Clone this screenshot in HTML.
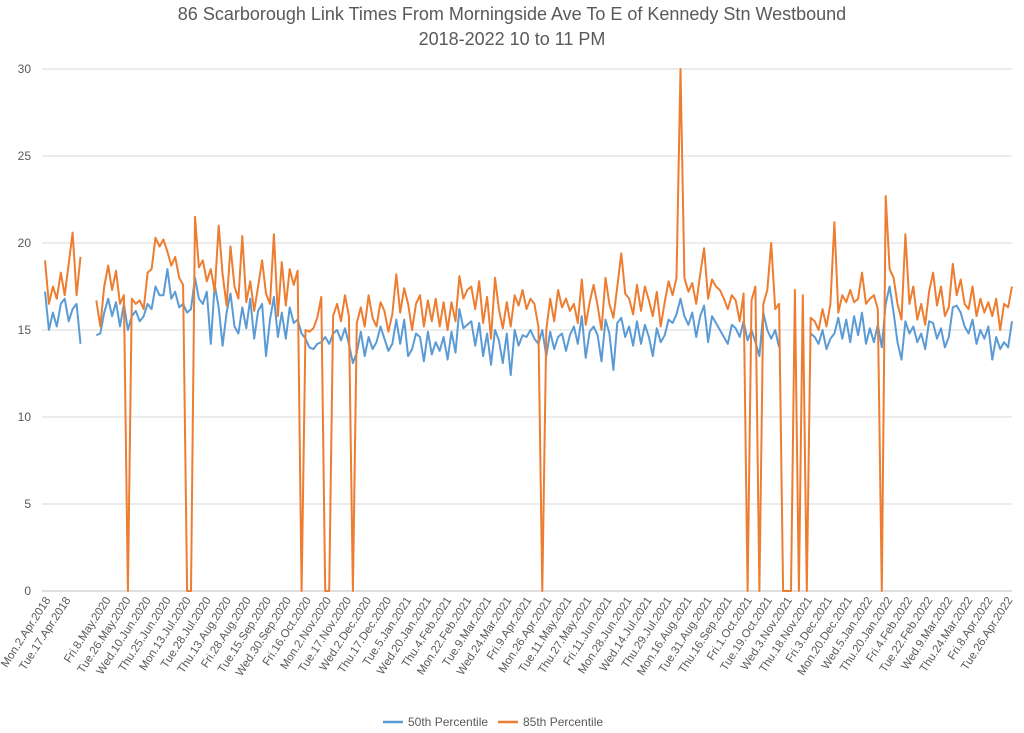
<!DOCTYPE html>
<html><head><meta charset="utf-8"><style>
html,body{margin:0;padding:0;background:#fff;}
svg{display:block;font-family:"Liberation Sans",Arial,sans-serif;}
</style></head><body>
<svg id="chart" width="1024" height="733" viewBox="0 0 1024 733">
<text x="512" y="20" text-anchor="middle" font-size="18" fill="#595959">86 Scarborough Link Times From Morningside Ave To E of Kennedy Stn Westbound</text>
<text x="512" y="45" text-anchor="middle" font-size="18" fill="#595959">2018-2022 10 to 11 PM</text>
<g id="grid"></g><g id="series"></g><g id="xlabels"></g>
<g>
<line x1="383" y1="722" x2="403" y2="722" stroke="#5b9bd5" stroke-width="2.5"/>
<text x="408" y="726" font-size="12" fill="#595959">50th Percentile</text>
<line x1="498" y1="722" x2="518" y2="722" stroke="#ed7d31" stroke-width="2.5"/>
<text x="523" y="726" font-size="12" fill="#595959">85th Percentile</text>
</g>
</svg>
<script>
const labels = ["Mon.2.Apr.2018","Tue.17.Apr.2018","","Fri.8.May.2020","Tue.26.May.2020","Wed.10.Jun.2020","Thu.25.Jun.2020","Mon.13.Jul.2020","Tue.28.Jul.2020","Thu.13.Aug.2020","Fri.28.Aug.2020","Tue.15.Sep.2020","Wed.30.Sep.2020","Fri.16.Oct.2020","Mon.2.Nov.2020","Tue.17.Nov.2020","Wed.2.Dec.2020","Thu.17.Dec.2020","Tue.5.Jan.2021","Wed.20.Jan.2021","Thu.4.Feb.2021","Mon.22.Feb.2021","Tue.9.Mar.2021","Wed.24.Mar.2021","Fri.9.Apr.2021","Mon.26.Apr.2021","Tue.11.May.2021","Thu.27.May.2021","Fri.11.Jun.2021","Mon.28.Jun.2021","Wed.14.Jul.2021","Thu.29.Jul.2021","Mon.16.Aug.2021","Tue.31.Aug.2021","Thu.16.Sep.2021","Fri.1.Oct.2021","Tue.19.Oct.2021","Wed.3.Nov.2021","Thu.18.Nov.2021","Fri.3.Dec.2021","Mon.20.Dec.2021","Wed.5.Jan.2022","Thu.20.Jan.2022","Fri.4.Feb.2022","Tue.22.Feb.2022","Wed.9.Mar.2022","Thu.24.Mar.2022","Fri.8.Apr.2022","Tue.26.Apr.2022"];
const yTicks = [0,5,10,15,20,25,30];
const p85 = [19,16.5,17.5,16.8,18.3,17,18.8,20.6,17,19.2,
null,null,null,16.7,15.2,17.5,18.7,17.3,18.4,16.5,
17,0,16.8,16.5,16.7,16.2,18.3,18.5,20.3,19.8,
20.2,19.5,18.7,19.2,18,17.6,0,0,21.5,18.6,
19,17.8,18.5,17.2,21,18.2,16.4,19.8,17.5,16.8,
20.4,16.6,17.8,16.1,17.5,19,17.1,16.5,20.5,15.8,
18.9,16.4,18.5,17.6,18.4,0,15,14.9,15.1,15.7,
16.9,0,0,15.8,16.5,15.5,17,15.8,0,15.4,
16.3,15.2,17,15.7,15.2,16.6,16.1,14.9,15.9,18.2,
16,17.4,16.5,15,16.5,17,15.2,16.7,15.5,16.8,
15.2,16.6,15,16.6,15.5,18.1,16.8,17.3,17.5,16.2,
17.8,15.4,16.9,14.5,18,16.2,15.1,16.6,15.2,17,
16.4,17.3,16.2,16.8,16.5,15.2,0,15,16.8,15.5,
17.3,16.3,16.8,16.1,16.5,15.4,17.9,15.3,16.6,17.6,
16.4,15,18,16.5,15.7,17.5,19.4,17.1,16.8,15.9,
17.6,16.1,17.5,16.7,15.8,17.2,15.2,16.6,17.8,17,
18,30,18,17.2,17.7,16.5,18.2,19.7,16.8,17.9,
17.5,17.3,16.8,16.2,17,16.7,15.5,17.1,0,16.7,
17.5,0,16.5,17.3,20,16.2,16.5,0,0,0,
17.3,0,17,0,15.7,15.5,15,16.2,15.2,16.5,
21.2,16,17,16.6,17.3,16.6,16.8,18.3,16.5,16.8,
17,16.2,0,22.7,18.5,18,16.5,15.6,20.5,16.5,
17.5,15.6,16.5,15.3,17.2,18.3,16.4,17.5,15.8,16.3,
18.8,17,17.9,16.5,16.2,17.5,15.8,16.8,16,16.6,
15.8,16.8,15,16.5,16.3,17.5];
const p50 = [17.2,15,16,15.2,16.5,16.8,15.5,16.2,16.5,14.2,
null,null,null,14.7,14.8,16,16.8,15.8,16.6,15.2,
16.5,15,15.8,16.1,15.5,15.8,16.5,16.2,17.5,17,
17,18.5,16.8,17.2,16.3,16.5,16,16.2,18,16.8,
16.5,17.2,14.2,17.6,16.3,14.1,16,17.1,15.2,14.8,
16.3,15.1,16.8,14.5,16.1,16.5,13.5,15.6,16.9,14.6,
16,14.5,16.3,15.4,15.6,14.8,14.5,14,13.9,14.2,
14.3,14.6,14.2,14.8,15,14.4,15.1,14.2,13.1,13.7,
14.9,13.5,14.6,13.9,14.3,15.2,14.5,13.8,14.2,15.6,
14.2,15.6,13.5,13.9,14.8,14.6,13.2,14.9,13.6,14.3,
13.8,14.6,13.3,14.9,13.7,16.2,15.1,15.3,15.5,14.1,
15.4,13.5,14.8,13,15,14.4,13.1,14.8,12.4,15,
14.1,14.7,14.6,15,14.5,14.2,15,13.5,14.9,13.9,
14.6,14.8,13.8,14.7,15.2,14.2,15.8,13.4,14.9,15.2,
14.7,13.2,15.6,14.8,12.7,15.4,15.7,14.6,15.2,14.1,
15.5,14.2,15.3,14.6,13.5,15.1,14.3,14.7,15.6,15.4,
15.9,16.8,15.8,15.3,16,14.6,15.8,16.4,14.3,15.8,
15.4,15,14.6,14.2,15.3,15.1,14.6,15.5,14.4,15,
14.3,13.5,16,15,14.5,15,14,null,null,null,
15.5,null,null,null,14.8,14.6,14.2,15,13.9,14.5,
14.8,15.7,14.5,15.6,14.3,15.8,14.7,16,14.2,15.1,
14.3,15.3,14,16.5,17.5,16,14.3,13.3,15.5,14.8,
15.2,14.3,14.8,13.9,15.5,15.4,14.5,15.1,14,14.6,
16.3,16.4,16,15.2,14.8,15.6,14.2,15,14.5,15.2,
13.3,14.6,13.9,14.3,14,15.5];
const NS="http://www.w3.org/2000/svg";
const X0=45, X1=1012, Y0=591, Y30=69;
const nCat=p85.length;
function xs(i){return X0+i*(X1-X0)/(nCat-1);}
function ys(v){return Y0+(Y30-Y0)*v/30;}
function lx(k){return 48+k*(1010-48)/(labels.length-1);}
const grid=document.getElementById('grid');
yTicks.forEach(t=>{
  const l=document.createElementNS(NS,'line');
  
  
  l.setAttribute('x1',42);l.setAttribute('x2',1012);
  l.setAttribute('y1',ys(t));l.setAttribute('y2',ys(t));
  l.setAttribute('stroke',t===0?'#bfbfbf':'#d9d9d9');l.setAttribute('stroke-width',1);
  grid.appendChild(l);
  const tx=document.createElementNS(NS,'text');
  
  
  tx.setAttribute('x',31);tx.setAttribute('y',ys(t)+4);
  tx.setAttribute('text-anchor','end');tx.setAttribute('font-size','12');tx.setAttribute('fill','#595959');
  tx.textContent=t;grid.appendChild(tx);
});
const xl=document.getElementById('xlabels');
labels.forEach((lab,k)=>{
  if(!lab)return;
  const x=lx(k)+3, y=600;
  const tx=document.createElementNS(NS,'text');
  
  
  tx.setAttribute('x',x);tx.setAttribute('y',y);
  tx.setAttribute('text-anchor','end');tx.setAttribute('font-size','11.5');tx.setAttribute('fill','#595959');
  tx.setAttribute('transform','rotate(-57 '+x+' '+y+')');
  tx.textContent=lab;xl.appendChild(tx);
});
function path(vals,color,name){
  let d='',pen=false;
  vals.forEach((v,i)=>{
    if(v===null){pen=false;return;}
    d+=(pen?'L':'M')+xs(i).toFixed(1)+' '+ys(v).toFixed(1)+' ';pen=true;
  });
  const p=document.createElementNS(NS,'path');
  
  
  p.setAttribute('d',d);p.setAttribute('fill','none');p.setAttribute('stroke',color);
  p.setAttribute('stroke-width','2');p.setAttribute('stroke-linejoin','round');
  document.getElementById('series').appendChild(p);
}
path(p50,'#5b9bd5','series-50th-percentile');
path(p85,'#ed7d31','series-85th-percentile');
</script>
</body></html>
